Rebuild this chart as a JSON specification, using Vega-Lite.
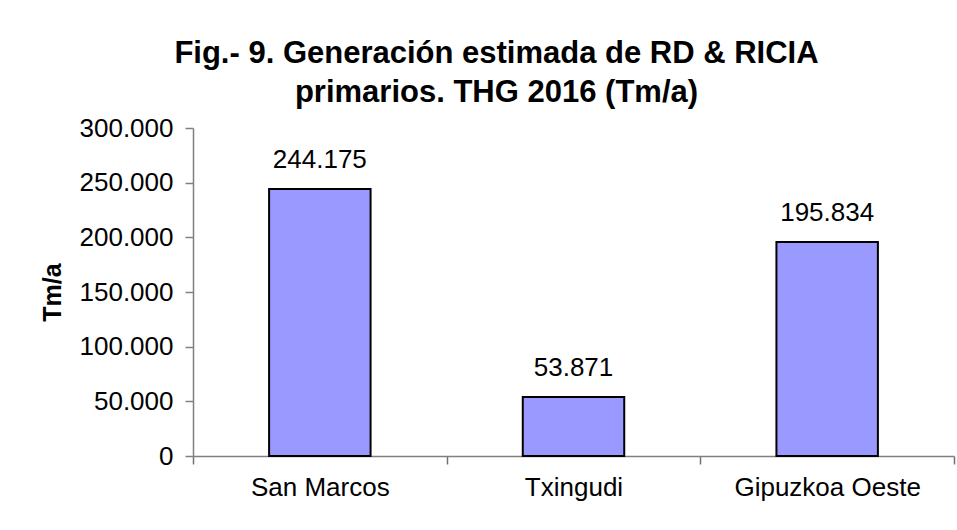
{
  "$schema": "https://vega.github.io/schema/vega-lite/v6.json",
  "width": 761,
  "height": 328,
  "autosize": {"type": "none"},
  "padding": {"left": 193, "top": 128, "right": 3, "bottom": 74},
  "background": "white",
  "config": {
    "font": "Liberation Sans",
    "view": {"stroke": null},
    "locale": {"number": {"decimal": ",", "thousands": ".", "grouping": [3], "currency": ["", " €"]}}
  },
  "title": {
    "text": ["Fig.- 9. Generación estimada de RD & RICIA", "primarios. THG 2016 (Tm/a)"],
    "font": "Liberation Sans",
    "fontSize": 31,
    "fontWeight": "bold",
    "color": "black",
    "anchor": "middle",
    "lineHeight": 39,
    "dx": -77,
    "offset": 6
  },
  "data": {
    "values": [
      {"zona": "San Marcos", "tm": 244175},
      {"zona": "Txingudi", "tm": 53871},
      {"zona": "Gipuzkoa Oeste", "tm": 195834}
    ]
  },
  "encoding": {
    "x": {
      "field": "zona",
      "type": "nominal",
      "sort": null,
      "scale": {"paddingInner": 0, "paddingOuter": 0},
      "axis": {
        "title": null,
        "labelAngle": 0,
        "labelFontSize": 26,
        "labelColor": "black",
        "labelPadding": 10,
        "labelLimit": 400,
        "ticks": true,
        "tickBand": "extent",
        "tickSize": 8,
        "tickColor": "#707070",
        "tickWidth": 1.5,
        "domainColor": "#808080",
        "domainWidth": 1.5
      }
    },
    "y": {
      "field": "tm",
      "type": "quantitative",
      "scale": {"domain": [0, 300000], "nice": false},
      "axis": {
        "title": "Tm/a",
        "titleFontSize": 25,
        "titleFontWeight": "bold",
        "titleColor": "black",
        "titlePadding": 14,
        "values": [0, 50000, 100000, 150000, 200000, 250000, 300000],
        "format": ",d",
        "labelFontSize": 26,
        "labelColor": "black",
        "labelPadding": 12,
        "tickSize": 8,
        "tickColor": "#808080",
        "domainColor": "#808080",
        "domainWidth": 1.5,
        "tickWidth": 1.5,
        "grid": false
      }
    }
  },
  "layer": [
    {
      "mark": {"type": "bar", "fill": "#9999FF", "stroke": "black", "strokeWidth": 2, "width": {"band": 0.4}}
    },
    {
      "mark": {"type": "text", "baseline": "alphabetic", "dy": -21, "fontSize": 26, "color": "black"},
      "encoding": {"text": {"field": "tm", "type": "quantitative", "format": ",d"}}
    }
  ]
}
